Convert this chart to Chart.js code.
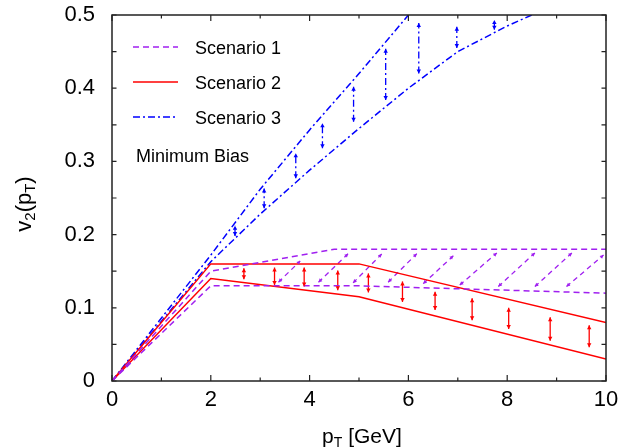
<!DOCTYPE html>
<html><head><meta charset="utf-8">
<script src="https://cdn.jsdelivr.net/npm/chart.js@4.4.1/dist/chart.umd.min.js"></script>
<style>html,body{margin:0;padding:0;background:#fff;}canvas{display:block}</style>
</head><body>
<canvas id="c" width="621" height="448"></canvas>
<script>
// ---- data ----
const xTickLabels = ['0', '2', '4', '6', '8', '10'];
const yTickLabels = ['0', '0.1', '0.2', '0.3', '0.4', '0.5'];
const legendLabels = ['Scenario 1', 'Scenario 2', 'Scenario 3'];
const noteText = 'Minimum Bias';

// Scenario 1 (band edges)
const s1UpperX = [0, 2, 4.5, 10];
const s1UpperY = [0, 0.150, 0.180, 0.180];
const s1LowerX = [0, 2, 5, 10];
const s1LowerY = [0, 0.130, 0.130, 0.120];
// Scenario 1 hatch arrows
const s1HatchX0 = [3.37, 4.18, 4.88, 5.59, 6.30, 7.04, 7.82, 8.56, 9.20];
const s1HatchY0 = [0.135, 0.135, 0.134, 0.135, 0.133, 0.131, 0.129, 0.129, 0.129];
const s1HatchX1 = [3.81, 4.78, 5.46, 6.17, 6.91, 7.79, 8.56, 9.31, 9.95];
const s1HatchY1 = [0.164, 0.174, 0.1735, 0.174, 0.171, 0.175, 0.175, 0.175, 0.172];

// Scenario 2
const s2UpperX = [0, 2, 5, 10];
const s2UpperY = [0, 0.160, 0.160, 0.080];
const s2LowerX = [0, 2, 5, 10];
const s2LowerY = [0, 0.140, 0.115, 0.030];
const s2ArrowX = [2.67, 3.29, 3.89, 4.57, 5.19, 5.88, 6.54, 7.29, 8.03, 8.87, 9.66];
const s2ArrowLow = [0.139, 0.131, 0.129, 0.124, 0.121, 0.108, 0.097, 0.083, 0.071, 0.055, 0.046];
const s2ArrowHigh = [0.154, 0.155, 0.155, 0.151, 0.147, 0.136, 0.122, 0.113, 0.100, 0.087, 0.076];

// Scenario 3
const s3UpperX = [0, 2, 3, 4, 5, 6];
const s3UpperY = [0, 0.172, 0.262, 0.343, 0.420, 0.500];
const s3LowerX = [0, 2, 3, 4, 5, 6, 7, 8, 8.5];
const s3LowerY = [0, 0.163, 0.228, 0.288, 0.345, 0.400, 0.450, 0.485, 0.500];
const s3ArrowX = [2.49, 3.08, 3.72, 4.26, 4.89, 5.54, 6.21, 6.98, 7.74];
const s3ArrowLow = [0.198, 0.236, 0.277, 0.318, 0.354, 0.384, 0.420, 0.455, 0.480];
const s3ArrowHigh = [0.212, 0.263, 0.311, 0.352, 0.402, 0.454, 0.489, 0.484, 0.493];

// ---- styles ----
const PURPLE = '#a020f0', RED = '#ff0000', BLUE = '#0000ff';
const DASH1 = [6, 4], DASH3 = [7, 3, 2, 3], HATCH = [5, 4];
const FONT = "'Liberation Sans', Arial, Helvetica, sans-serif";

const pts = (xs, ys) => xs.map((x, i) => ({x: x, y: ys[i]}));
const lineDs = (xs, ys, color, dash) => ({
  data: pts(xs, ys), borderColor: color, borderWidth: 1.5, borderDash: dash || [],
  pointRadius: 0, fill: false, tension: 0
});
const arrowDs = (x0, y0, x1, y1, color, dash, head) => ({
  data: [{x: x0, y: y0}, {x: x1, y: y1}], borderColor: color, borderWidth: 1.3,
  borderDash: dash || [], pointRadius: 0, fill: false, tension: 0, arrowHeads: head
});

const datasets = [
  lineDs(s1UpperX, s1UpperY, PURPLE, DASH1),
  lineDs(s1LowerX, s1LowerY, PURPLE, DASH1),
  lineDs(s2UpperX, s2UpperY, RED),
  lineDs(s2LowerX, s2LowerY, RED),
  lineDs(s3UpperX, s3UpperY, BLUE, DASH3),
  lineDs(s3LowerX, s3LowerY, BLUE, DASH3),
];
s1HatchX0.forEach((x, i) => datasets.push(arrowDs(x, s1HatchY0[i], s1HatchX1[i], s1HatchY1[i], PURPLE, HATCH, 3.5)));
s2ArrowX.forEach((x, i) => datasets.push(arrowDs(x, s2ArrowLow[i], x, s2ArrowHigh[i], RED, [], 4)));
s3ArrowX.forEach((x, i) => datasets.push(arrowDs(x, s3ArrowLow[i], x, s3ArrowHigh[i], BLUE, DASH3, 4)));

const decor = {
  id: 'decor',
  afterDatasetsDraw(chart) {
    const ctx = chart.ctx, xs = chart.scales.x, ys = chart.scales.y, a = chart.chartArea;
    ctx.save();
    // arrow heads
    chart.data.datasets.forEach(ds => {
      if (!ds.arrowHeads) return;
      const p0 = {x: xs.getPixelForValue(ds.data[0].x), y: ys.getPixelForValue(ds.data[0].y)};
      const p1 = {x: xs.getPixelForValue(ds.data[1].x), y: ys.getPixelForValue(ds.data[1].y)};
      const L = ds.arrowHeads, W = L * 0.55;
      ctx.fillStyle = ds.borderColor;
      [[p0, p1], [p1, p0]].forEach(([tip, from]) => {
        const dx = tip.x - from.x, dy = tip.y - from.y, len = Math.hypot(dx, dy) || 1;
        const ux = dx / len, uy = dy / len;
        ctx.beginPath();
        ctx.moveTo(tip.x, tip.y);
        ctx.lineTo(tip.x - ux * L - uy * W, tip.y - uy * L + ux * W);
        ctx.lineTo(tip.x - ux * L + uy * W, tip.y - uy * L - ux * W);
        ctx.closePath();
        ctx.fill();
      });
    });
    // frame
    ctx.setLineDash([]);
    ctx.strokeStyle = '#222';
    ctx.lineWidth = 1.5;
    ctx.strokeRect(a.left, a.top, a.right - a.left, a.bottom - a.top);
    // inward ticks
    ctx.lineWidth = 1.2;
    ctx.beginPath();
    for (let v = 0; v <= 10; v += 1) {
      const px = xs.getPixelForValue(v), len = (v % 2 === 0) ? 6 : 3.5;
      ctx.moveTo(px, a.bottom); ctx.lineTo(px, a.bottom - len);
      ctx.moveTo(px, a.top); ctx.lineTo(px, a.top + len);
    }
    for (let k = 0; k <= 10; k++) {
      const py = ys.getPixelForValue(k * 0.05);
      ctx.moveTo(a.left, py); ctx.lineTo(a.left + 4.5, py);
      ctx.moveTo(a.right, py); ctx.lineTo(a.right - 4.5, py);
    }
    ctx.stroke();
    // legend
    const rows = [47, 82, 117];
    const styles = [[PURPLE, DASH1], [RED, []], [BLUE, DASH3]];
    ctx.font = '18px ' + FONT;
    ctx.textBaseline = 'alphabetic';
    ctx.textAlign = 'left';
    rows.forEach((ry, i) => {
      ctx.strokeStyle = styles[i][0];
      ctx.setLineDash(styles[i][1]);
      ctx.lineWidth = 1.5;
      ctx.beginPath(); ctx.moveTo(133, ry); ctx.lineTo(178, ry); ctx.stroke();
      ctx.fillStyle = '#000';
      ctx.fillText(legendLabels[i], 195, ry + 6.5);
    });
    ctx.setLineDash([]);
    ctx.fillText(noteText, 136, 161.5);
    // axis titles with subscripts
    const drawParts = (parts, cx, by) => {
      let w = 0;
      parts.forEach(p => { ctx.font = p[1] + 'px ' + FONT; w += ctx.measureText(p[0]).width; });
      let x = cx - w / 2;
      parts.forEach(p => {
        ctx.font = p[1] + 'px ' + FONT;
        ctx.fillText(p[0], x, by + p[2]);
        x += ctx.measureText(p[0]).width;
      });
    };
    ctx.fillStyle = '#000';
    ctx.textBaseline = 'alphabetic';
    drawParts([['p', 21, 0], ['T', 14, 4], [' [GeV]', 21, 0]], 362, 443);
    ctx.save();
    ctx.translate(31, 204);
    ctx.rotate(-Math.PI / 2);
    drawParts([['v', 22, 0], ['2', 15, 4], ['(p', 22, 0], ['T', 15, 4], [')', 22, 0]], 0, 0);
    ctx.restore();
    ctx.restore();
  }
};

const noPad = s => { s.paddingTop = 0; s.paddingBottom = 0; s.paddingLeft = 0; s.paddingRight = 0; };

new Chart(document.getElementById('c'), {
  type: 'line',
  data: {datasets: datasets},
  options: {
    responsive: false,
    animation: false,
    events: [],
    layout: {padding: {left: 0, right: 15, top: 15, bottom: 0}, autoPadding: false},
    plugins: {legend: {display: false}, tooltip: {enabled: false}, title: {display: false}},
    scales: {
      x: {
        type: 'linear', min: 0, max: 10,
        ticks: {stepSize: 2, color: '#000', font: {size: 22, family: FONT}, padding: 6, maxRotation: 0,
          callback: (v, i) => xTickLabels[i]},
        grid: {display: false, drawTicks: false},
        border: {display: false},
        afterFit: s => { s.height = 67; noPad(s); }
      },
      y: {
        type: 'linear', min: 0, max: 0.5,
        ticks: {stepSize: 0.1, color: '#000', font: {size: 22, family: FONT}, padding: 17,
          callback: (v, i) => yTickLabels[i]},
        grid: {display: false, drawTicks: false},
        border: {display: false},
        afterFit: s => { s.width = 112; noPad(s); }
      }
    }
  },
  plugins: [decor]
});
</script>
</body></html>
